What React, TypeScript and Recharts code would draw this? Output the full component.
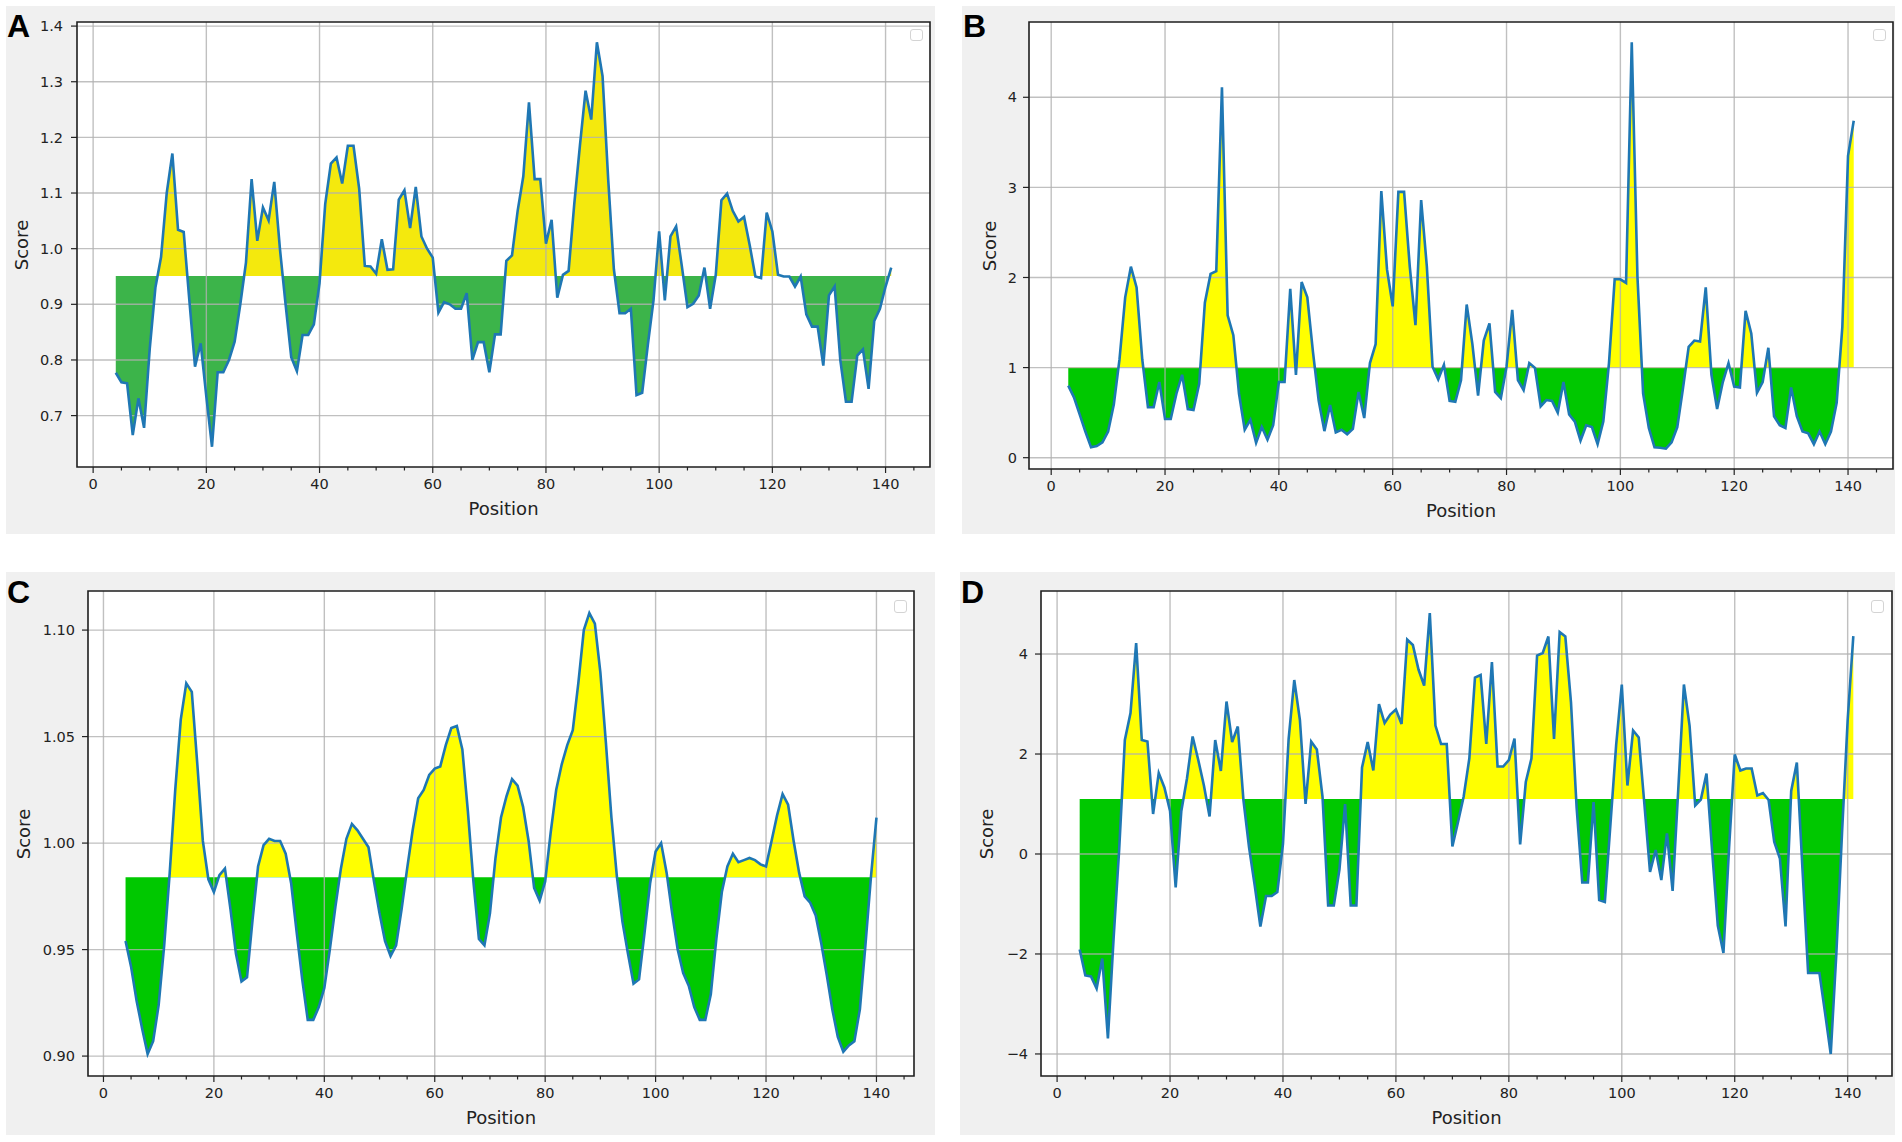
import React from 'react';
import { ComposedChart, Line, Area, XAxis, YAxis, ReferenceLine, ReferenceArea } from 'recharts';

// ---------- data ----------
const startA = 4;
const scoresA = [
  0.777, 0.76, 0.758, 0.665, 0.731, 0.678, 0.82, 0.93, 0.985, 1.1,
  1.171, 1.034, 1.03, 0.907, 0.788, 0.83, 0.734, 0.644, 0.778, 0.778,
  0.8, 0.833, 0.9, 0.975, 1.125, 1.014, 1.074, 1.051, 1.12, 1.0,
  0.9, 0.805, 0.78, 0.845, 0.845, 0.864, 0.938, 1.08, 1.153, 1.164,
  1.117, 1.185, 1.185, 1.108, 0.969, 0.968, 0.955, 1.017, 0.962, 0.963,
  1.088, 1.105, 1.037, 1.111, 1.022, 1.0, 0.984, 0.885, 0.904, 0.9,
  0.892, 0.892, 0.92, 0.8, 0.832, 0.832, 0.778, 0.846, 0.846, 0.978,
  0.988, 1.068, 1.13, 1.263, 1.125, 1.125, 1.009, 1.052, 0.912, 0.953,
  0.96, 1.08, 1.185, 1.284, 1.232, 1.371, 1.31, 1.124, 0.963, 0.884,
  0.884, 0.892, 0.737, 0.741, 0.827, 0.907, 1.031, 0.907, 1.022, 1.04,
  0.969, 0.895, 0.901, 0.916, 0.966, 0.892, 0.953, 1.087, 1.099, 1.068,
  1.049, 1.057, 1.006, 0.95, 0.947, 1.065, 1.031, 0.953, 0.95, 0.95,
  0.932, 0.95, 0.882, 0.86, 0.86, 0.79, 0.916, 0.932, 0.8, 0.725,
  0.725, 0.808, 0.819, 0.748, 0.87, 0.892, 0.932, 0.966,
];
const thresholdA = 0.951;

const startB = 3;
const scoresB = [
  0.8, 0.67, 0.48, 0.29, 0.115, 0.13, 0.17, 0.29, 0.59, 1.09,
  1.78, 2.12, 1.89, 1.09, 0.56, 0.56, 0.84, 0.43, 0.43, 0.71,
  0.92, 0.54, 0.53, 0.82, 1.72, 2.04, 2.07, 4.11, 1.58, 1.36,
  0.71, 0.31, 0.42, 0.165, 0.34, 0.2, 0.36, 0.84, 0.84, 1.875,
  0.92, 1.95, 1.78, 1.17, 0.63, 0.295, 0.585, 0.28, 0.31, 0.26,
  0.32, 0.73, 0.44, 1.05, 1.26, 2.96, 2.09, 1.68, 2.95, 2.95,
  2.12, 1.47, 2.86, 2.12, 1.01, 0.87, 1.03, 0.63, 0.62, 0.86,
  1.7, 1.26, 0.69, 1.3, 1.49, 0.73, 0.66, 1.01, 1.64, 0.86,
  0.75, 1.05, 0.995, 0.57, 0.64, 0.63, 0.5, 0.84, 0.48, 0.4,
  0.19, 0.36, 0.34, 0.15, 0.4, 1.05, 1.98, 1.98, 1.94, 4.61,
  2.01, 0.71, 0.33, 0.115, 0.11, 0.1, 0.17, 0.34, 0.77, 1.23,
  1.3, 1.29, 1.89, 0.92, 0.54, 0.84, 1.05, 0.79, 0.78, 1.63,
  1.38, 0.72, 0.84, 1.22, 0.46, 0.36, 0.33, 0.78, 0.46, 0.29,
  0.27, 0.15, 0.29, 0.15, 0.29, 0.61, 1.45, 3.35, 3.74,
];
const thresholdB = 1.0;

const startC = 4;
const scoresC = [
  0.954, 0.942, 0.926, 0.913, 0.901, 0.907, 0.924, 0.952, 0.986, 1.025,
  1.058, 1.075, 1.071, 1.037, 1.001, 0.983, 0.977, 0.985, 0.988, 0.969,
  0.948, 0.935, 0.937, 0.964, 0.989, 0.999, 1.002, 1.001, 1.001, 0.995,
  0.981, 0.958, 0.936, 0.917, 0.917, 0.923, 0.932, 0.95, 0.97, 0.988,
  1.002, 1.009, 1.006, 1.002, 0.998, 0.982, 0.967, 0.954, 0.947, 0.952,
  0.969, 0.988, 1.006, 1.021, 1.025, 1.032, 1.035, 1.036, 1.046, 1.054,
  1.055, 1.044, 1.015, 0.982, 0.955, 0.952, 0.967, 0.993, 1.012, 1.022,
  1.03, 1.027, 1.017, 1.001, 0.979, 0.973, 0.982, 1.005, 1.025, 1.037,
  1.046, 1.053, 1.075, 1.1, 1.108, 1.103, 1.08, 1.047, 1.012, 0.984,
  0.963, 0.948, 0.934, 0.936, 0.958, 0.981, 0.996, 1.0, 0.986, 0.967,
  0.95, 0.939, 0.933, 0.923, 0.917, 0.917, 0.929, 0.955, 0.977, 0.989,
  0.995, 0.991, 0.992, 0.993, 0.992, 0.99, 0.989, 1.001, 1.013, 1.023,
  1.018, 1.001, 0.986, 0.975, 0.972, 0.966, 0.953, 0.938, 0.922, 0.909,
  0.902, 0.905, 0.907, 0.922, 0.952, 0.984, 1.012,
];
const thresholdC = 0.984;

const startD = 4;
const scoresD = [
  -1.91, -2.43, -2.45, -2.69, -2.09, -3.69, -1.7, 0.1, 2.28, 2.82,
  4.22, 2.28, 2.25, 0.8, 1.62, 1.33, 0.86, -0.67, 0.86, 1.51,
  2.35, 1.88, 1.37, 0.75, 2.28, 1.66, 3.05, 2.24, 2.55, 1.08,
  0.13, -0.63, -1.45, -0.84, -0.84, -0.76, 0.2, 2.3, 3.48, 2.68,
  1.0, 2.25, 2.09, 1.15, -1.03, -1.03, -0.31, 1.0, -1.03, -1.03,
  1.73, 2.24, 1.67, 3.0, 2.62, 2.79, 2.89, 2.6, 4.29, 4.18,
  3.69, 3.37, 4.82, 2.57, 2.2, 2.2, 0.15, 0.64, 1.15, 1.91,
  3.53, 3.58, 2.2, 3.84, 1.75, 1.75, 1.88, 2.31, 0.19, 1.44,
  1.91, 3.97, 4.02, 4.35, 2.3, 4.44, 4.35, 3.04, 0.93, -0.57,
  -0.57, 1.04, -0.92, -0.96, 0.61, 2.18, 3.39, 1.37, 2.47, 2.33,
  1.0, -0.36, 0.08, -0.52, 0.41, -0.74, 1.29, 3.39, 2.57, 0.97,
  1.09, 1.61, 0.06, -1.43, -1.98, 0.13, 1.99, 1.67, 1.71, 1.71,
  1.17, 1.22, 1.08, 0.24, -0.09, -1.45, 1.26, 1.83, -0.31, -2.38,
  -2.38, -2.38, -3.18, -4.0, -1.98, 0.42, 2.68, 4.36,
];
const thresholdD = 1.1;

// ---------- ticks ----------
const xMajorTicks = [0, 20, 40, 60, 80, 100, 120, 140];
const xAllTicks = [0, 5, 10, 15, 20, 25, 30, 35, 40, 45, 50, 55, 60, 65, 70, 75, 80, 85, 90, 95, 100, 105, 110, 115, 120, 125, 130, 135, 140, 145];
const yTicksA = [0.7, 0.8, 0.9, 1.0, 1.1, 1.2, 1.3, 1.4];
const yTicksB = [0, 1, 2, 3, 4];
const yTicksC = [0.9, 0.95, 1.0, 1.05, 1.1];
const yTicksD = [-4, -2, 0, 2, 4];

const fmtA = (v: number) => v.toFixed(1);
const fmtB = (v: number) => String(v);
const fmtC = (v: number) => v.toFixed(2);
const fmtD = (v: number) => (v < 0 ? '\u2212' + String(Math.abs(v)) : String(v));

const TICK_FONT = 'DejaVu Sans, Verdana, sans-serif';
const TEXT_COLOR = '#222';
const LINE_BLUE = '#1f77b4';
const XH = 30;

type Cfg = {
  letter: string;
  box: { left: number; top: number; w: number; h: number };
  plot: { left: number; right: number; top: number; bottom: number };
  start: number;
  scores: number[];
  thr: number;
  yTicks: number[];
  fmt: (v: number) => string;
  green: string;
  yellow: string;
  tickMargin: number;
  scoreX: number;
  legend: { left: number; top: number; w: number; h: number };
};

const panels: Cfg[] = [
  {
    letter: 'A',
    box: { left: 6, top: 6, w: 929, h: 528 },
    plot: { left: 77, right: 930, top: 22, bottom: 467 },
    start: startA, scores: scoresA, thr: thresholdA, yTicks: yTicksA, fmt: fmtA,
    green: '#3cb44a', yellow: '#f4e90d', tickMargin: 8, scoreX: 21,
    legend: { left: 910, top: 29, w: 13, h: 12 },
  },
  {
    letter: 'B',
    box: { left: 962, top: 6, w: 933, h: 528 },
    plot: { left: 1029, right: 1893, top: 22, bottom: 469 },
    start: startB, scores: scoresB, thr: thresholdB, yTicks: yTicksB, fmt: fmtB,
    green: '#00c800', yellow: '#ffff00', tickMargin: 6, scoreX: 989,
    legend: { left: 1873, top: 29, w: 13, h: 12 },
  },
  {
    letter: 'C',
    box: { left: 6, top: 572, w: 929, h: 563 },
    plot: { left: 88, right: 914, top: 591, bottom: 1076 },
    start: startC, scores: scoresC, thr: thresholdC, yTicks: yTicksC, fmt: fmtC,
    green: '#00c800', yellow: '#ffff00', tickMargin: 7, scoreX: 23,
    legend: { left: 894, top: 600, w: 13, h: 13 },
  },
  {
    letter: 'D',
    box: { left: 960, top: 572, w: 935, h: 563 },
    plot: { left: 1041, right: 1892, top: 591, bottom: 1076 },
    start: startD, scores: scoresD, thr: thresholdD, yTicks: yTicksD, fmt: fmtD,
    green: '#00c800', yellow: '#ffff00', tickMargin: 7, scoreX: 986,
    legend: { left: 1871, top: 600, w: 13, h: 13 },
  },
];

const renderXTick = (props: any) => {
  const { x, y, payload } = props;
  const major = xMajorTicks.includes(payload.value);
  return (
    <g>
      <line x1={x} x2={x} y1={y} y2={y + (major ? 6 : 3.5)} stroke={TEXT_COLOR} strokeWidth={1.2} />
      {major && (
        <text x={x} y={y + 17} dy="0.36em" textAnchor="middle" fontSize={14.5} fill={TEXT_COLOR} fontFamily={TICK_FONT}>
          {payload.value}
        </text>
      )}
    </g>
  );
};

function Panel({ cfg }: { cfg: Cfg }) {
  const { box, plot, scores, start, thr, yTicks } = cfg;
  const rows = scores.map((v, i) => ({ pos: start + i, v }));
  const xs = rows.map((r) => r.pos);
  const xMin = Math.min(...xs);
  const xMax = Math.max(...xs);
  const xPad = (xMax - xMin) * 0.05;
  const yMin = Math.min(...scores);
  const yMax = Math.max(...scores);
  const yPad = (yMax - yMin) * 0.05;
  const xDomain: [number, number] = [xMin - xPad, xMax + xPad];
  const yDomain: [number, number] = [yMin - yPad, yMax + yPad];
  // where the threshold sits inside the filled shape's bounding box (top = max score)
  const splitOffset = (yMax - thr) / (yMax - yMin);
  const gradId = 'split' + cfg.letter;

  const margin = {
    top: plot.top - box.top,
    right: box.left + box.w - plot.right,
    bottom: box.top + box.h - plot.bottom - XH,
    left: 0,
  };
  const plotCx = (plot.left + plot.right) / 2 - box.left;
  const plotCy = (plot.top + plot.bottom) / 2 - box.top;

  return (
    <div style={{ position: 'absolute', left: box.left, top: box.top, width: box.w, height: box.h, background: '#f0f0f0' }}>
      <div style={{ position: 'absolute', left: plot.left - box.left, top: plot.top - box.top, width: plot.right - plot.left, height: plot.bottom - plot.top, background: '#ffffff' }} />
      <div style={{ position: 'absolute', left: 0, top: 0 }}>
        <ComposedChart width={box.w} height={box.h} data={rows} margin={margin}>
          <defs>
            <linearGradient id={gradId} x1="0" y1="0" x2="0" y2="1">
              <stop offset={0} stopColor={cfg.yellow} stopOpacity={1} />
              <stop offset={splitOffset} stopColor={cfg.yellow} stopOpacity={1} />
              <stop offset={splitOffset} stopColor={cfg.green} stopOpacity={1} />
              <stop offset={1} stopColor={cfg.green} stopOpacity={1} />
            </linearGradient>
          </defs>
          <XAxis
            type="number"
            dataKey="pos"
            domain={xDomain}
            allowDataOverflow
            ticks={xAllTicks}
            interval={0}
            height={XH}
            tickLine={false}
            axisLine={false}
            tickSize={0}
            tickMargin={0}
            tick={renderXTick}
          />
          <YAxis
            type="number"
            domain={yDomain}
            allowDataOverflow
            ticks={yTicks}
            interval={0}
            width={plot.left - box.left}
            tickFormatter={cfg.fmt}
            tickSize={6}
            tickMargin={cfg.tickMargin}
            tickLine={{ stroke: TEXT_COLOR, strokeWidth: 1.2 }}
            axisLine={false}
            tick={{ fontSize: 14.5, fill: TEXT_COLOR, fontFamily: TICK_FONT }}
          />
          <Area
            type="linear"
            dataKey="v"
            baseValue={thr}
            fill={`url(#${gradId})`}
            fillOpacity={1}
            stroke="none"
            dot={false}
            activeDot={false}
            isAnimationActive={false}
          />
          {xMajorTicks.map((t) => (
            <ReferenceLine key={'gx' + t} x={t} stroke="#b0b0b0" strokeOpacity={0.8} strokeWidth={1.4} {...({ zIndex: 150 } as any)} />
          ))}
          {yTicks.map((t) => (
            <ReferenceLine key={'gy' + t} y={t} stroke="#b0b0b0" strokeOpacity={0.8} strokeWidth={1.4} {...({ zIndex: 150 } as any)} />
          ))}
          <Line
            type="linear"
            dataKey="v"
            stroke={LINE_BLUE}
            strokeWidth={2.6}
            dot={false}
            activeDot={false}
            isAnimationActive={false}
          />
          <ReferenceArea
            x1={xDomain[0]}
            x2={xDomain[1]}
            y1={yDomain[0]}
            y2={yDomain[1]}
            fill="none"
            fillOpacity={0}
            stroke="#1e1e1e"
            strokeWidth={1.6}
            ifOverflow="visible"
            {...({ zIndex: 600 } as any)}
          />
        </ComposedChart>
      </div>
      <div style={{ position: 'absolute', left: 1, top: 0, fontFamily: 'Liberation Sans, Arial, sans-serif', fontWeight: 'bold', fontSize: 32, lineHeight: '40px', color: '#000' }}>
        {cfg.letter}
      </div>
      <div
        style={{
          position: 'absolute',
          left: cfg.scoreX - box.left,
          top: plotCy,
          transform: 'translate(-50%, -50%) rotate(-90deg)',
          fontFamily: TICK_FONT,
          fontSize: 18,
          color: TEXT_COLOR,
          whiteSpace: 'nowrap',
        }}
      >
        Score
      </div>
      <div
        style={{
          position: 'absolute',
          left: plotCx,
          top: plot.bottom - box.top + 41,
          transform: 'translate(-50%, -50%)',
          fontFamily: TICK_FONT,
          fontSize: 18,
          color: TEXT_COLOR,
          whiteSpace: 'nowrap',
        }}
      >
        Position
      </div>
      <div
        style={{
          position: 'absolute',
          left: cfg.legend.left - box.left,
          top: cfg.legend.top - box.top,
          width: cfg.legend.w,
          height: cfg.legend.h,
          border: '1px solid #d4d4d4',
          borderRadius: 3,
          background: '#ffffff',
          boxSizing: 'border-box',
        }}
      />
    </div>
  );
}

export default function App() {
  return (
    <div style={{ position: 'absolute', left: 0, top: 0, width: 1902, height: 1142, background: '#ffffff', overflow: 'hidden' }}>
      {panels.map((p) => (
        <Panel key={p.letter} cfg={p} />
      ))}
    </div>
  );
}
